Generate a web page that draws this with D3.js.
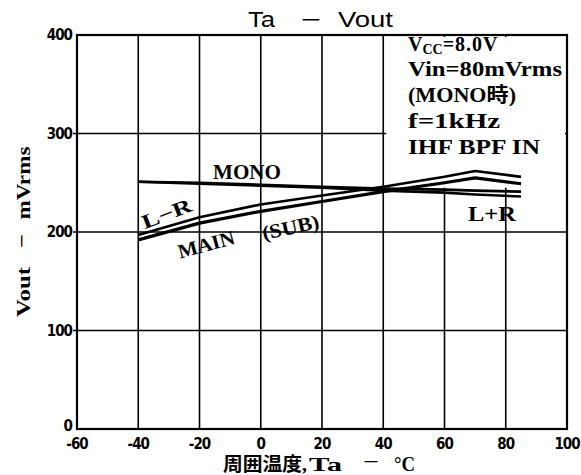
<!DOCTYPE html>
<html><head><meta charset="utf-8">
<script src="https://cdn.jsdelivr.net/npm/d3@7"></script>
<style>body{margin:0;background:#fff}svg{display:block}text{white-space:pre}</style>
</head><body>
<svg id="c" width="581" height="475"></svg>
<script>
const temps = [-40, -20, 0, 20, 40, 60, 70, 85];
const lrVals = [197, 215, 228, 237, 246, 256, 262, 256];
const mainVals = [192, 209, 221, 231, 241, 250, 255, 249];
const monoVals = [251, 250, 248, 246, 244, 243, 242, 241];
const lplusrVals = [251, 249, 247, 245, 242, 240, 238, 236];
const xTicks = [-60, -40, -20, 0, 20, 40, 60, 80, 100];
const yTicks = [0, 100, 200, 300, 400];
const condLines = ["=8.0V", "Vin=80mVrms", "(MONO時)", "f=1kHz", "IHF BPF IN"];

const svg = d3.select("#c");
const x = d3.scaleLinear([-60, 100], [77, 567]);
const y = d3.scaleLinear([0, 400], [429, 35]);
const serif = "'Liberation Serif','DejaVu Serif',serif";
const cjkSerif = "'Liberation Serif','Noto Sans CJK JP',serif";
const sans = "'DejaVu Sans Condensed','DejaVu Sans',sans-serif";

// grid
svg.append("g").selectAll("line.v").data(xTicks.slice(1, -1)).join("line")
  .attr("x1", d => x(d)).attr("x2", d => x(d)).attr("y1", y(0)).attr("y2", y(400))
  .attr("stroke", "#000").attr("stroke-width", 1.6);
svg.append("g").selectAll("line.h").data(yTicks.slice(1, -1)).join("line")
  .attr("x1", x(-60) - 4).attr("x2", x(100)).attr("y1", d => y(d)).attr("y2", d => y(d))
  .attr("stroke", "#000").attr("stroke-width", 1.6);

// condition box (white background)
svg.append("rect").attr("x", x(40) + 3).attr("y", y(400) + 2)
  .attr("width", x(100) - x(40) - 5).attr("height", y(245) - y(400) - 2).attr("fill", "#fff");

// axes frame
svg.append("rect").attr("x", x(-60)).attr("y", y(400))
  .attr("width", x(100) - x(-60)).attr("height", y(0) - y(400))
  .attr("fill", "none").attr("stroke", "#000").attr("stroke-width", 2.2);

// tick labels
svg.append("g").selectAll("text").data(xTicks).join("text")
  .attr("x", d => x(d)).attr("y", y(0) + 20).attr("text-anchor", "middle")
  .attr("font-family", sans).attr("font-weight", "bold").attr("font-size", 15)
  .attr("letter-spacing", -1).text(d => d);
svg.append("g").selectAll("text").data(yTicks).join("text")
  .attr("x", x(-60) - 5).attr("y", d => y(d) + (d === 0 ? 2 : 5)).attr("text-anchor", "end")
  .attr("font-family", sans).attr("font-weight", "bold").attr("font-size", 15)
  .attr("letter-spacing", -1).text(d => d);

// series
const line = d3.line().x(d => x(d[0])).y(d => y(d[1]));
const series = [lrVals, mainVals, monoVals, lplusrVals];
svg.append("g").selectAll("path").data(series).join("path")
  .attr("d", v => line(temps.map((t, i) => [t, v[i]])))
  .attr("fill", "none").attr("stroke", "#000").attr("stroke-width", (d, i) => i === 1 ? 3.2 : 2.6)
  .attr("stroke-linejoin", "round");

// stretched text helper
function st(t, px, py, ang, fs, w, fam, anchor) {
  return svg.append("text").attr("transform", `translate(${px},${py}) rotate(${ang})`)
    .attr("text-anchor", anchor || "middle").attr("font-family", fam || serif).attr("font-weight", "bold")
    .attr("font-size", fs).attr("textLength", w).attr("lengthAdjust", "spacingAndGlyphs").text(t);
}
st("MONO", 247, 179, 0, 21, 68);
st("L−R", 169, 220, -21, 20, 52);
st("MAIN", 208, 251, -15, 20, 58);
st("(SUB)", 292, 234, -12, 20, 58);
st("L+R", 492, 221, 0, 21, 48);

// conditions text
const cx0 = 408;
const t0 = svg.append("text").attr("x", cx0).attr("y", 51)
  .attr("font-family", serif).attr("font-weight", "bold").attr("font-size", 20);
t0.append("tspan").text("V");
t0.append("tspan").attr("font-size", 14).attr("dy", 3).text("CC");
t0.append("tspan").attr("dy", -3).attr("letter-spacing", 1).text(condLines[0]);
const widths = [null, 154, 108, 92, 132];
condLines.slice(1).forEach((s, i) => {
  st(s, cx0, 76 + i * 26, 0, 20, widths[i + 1], cjkSerif, "start");
});

// title
const tf = "'Liberation Sans',Arial,sans-serif";
[["Ta", 248, 27], ["−", 301, 20], ["Vout", 338, 55]].forEach(([s, px, w]) => {
  svg.append("text").attr("x", px).attr("y", 27).attr("font-family", tf).attr("font-size", 22)
    .attr("textLength", w).attr("lengthAdjust", "spacingAndGlyphs").text(s);
});

// x axis title
st("周囲温度,", 223, 471, 0, 19, 84, cjkSerif, "start");
st("Ta", 309, 471, 0, 19, 33, serif, "start");
st("−", 363, 468, 0, 19, 16, serif, "start");
st("°C", 394, 471, 0, 20, 21, serif, "start");

// y axis title
st("Vout", 30, 292, -90, 19, 50);
st("−", 28, 241, -90, 19, 14);
st("mVrms", 30, 183, -90, 19, 73);
</script>
</body></html>
